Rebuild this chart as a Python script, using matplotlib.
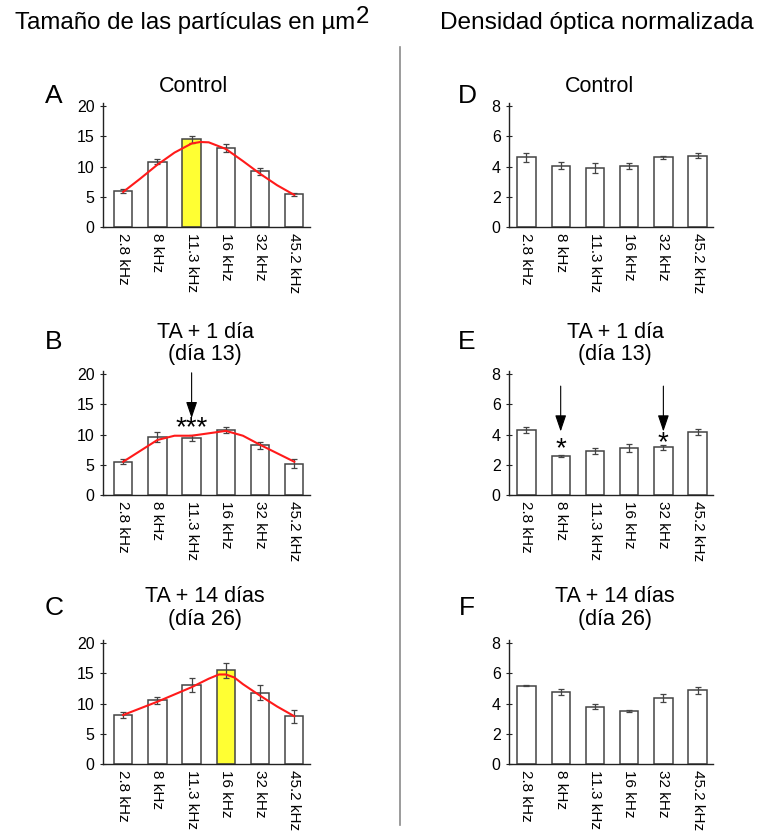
import numpy as np
import matplotlib
matplotlib.use('Agg')
import matplotlib.pyplot as plt

plt.rcParams['font.family'] = ['Liberation Sans', 'DejaVu Sans']

W, H = 759, 831

# data
freqs = ['2.8 kHz', '8 kHz', '11.3 kHz', '16 kHz', '32 kHz', '45.2 kHz']

size_ctrl = [5.9, 10.8, 14.5, 13.1, 9.2, 5.4]
size_ctrl_err = [0.3, 0.4, 0.6, 0.7, 0.6, 0.3]
size_d13 = [5.5, 9.6, 9.4, 10.8, 8.2, 5.2]
size_d13_err = [0.4, 0.8, 0.5, 0.5, 0.6, 0.7]
size_d26 = [8.1, 10.5, 13.1, 15.5, 11.8, 7.9]
size_d26_err = [0.5, 0.6, 1.2, 1.2, 1.2, 1.1]

# red fitted curves (position, value)
fit_ctrl_x = [0, 0.5, 1, 1.5, 2, 2.25, 2.5, 3, 3.5, 4, 4.5, 5]
fit_ctrl_y = [5.8, 8.0, 10.3, 12.3, 13.8, 14.05, 14.0, 12.9, 10.9, 8.8, 6.9, 5.3]
fit_d13_x = [0, 0.5, 1, 1.5, 2, 2.5, 3, 3.5, 4, 4.5, 5]
fit_d13_y = [5.5, 7.3, 9.1, 9.8, 9.8, 10.2, 10.6, 9.8, 8.3, 6.9, 5.5]
fit_d26_x = [0, 1, 2, 2.5, 2.8, 3, 3.25, 3.5, 4, 4.5, 5]
fit_d26_y = [8.1, 10.3, 12.7, 14.1, 14.8, 14.8, 14.3, 13.2, 11.3, 9.5, 7.9]

od_ctrl = [4.6, 4.06, 3.9, 4.03, 4.6, 4.72]
od_ctrl_err = [0.28, 0.25, 0.3, 0.18, 0.1, 0.18]
od_d13 = [4.32, 2.6, 2.94, 3.1, 3.15, 4.15]
od_d13_err = [0.2, 0.06, 0.2, 0.25, 0.15, 0.2]
od_d26 = [5.18, 4.75, 3.8, 3.5, 4.37, 4.87]
od_d26_err = [0.04, 0.2, 0.15, 0.07, 0.25, 0.25]

highlight = {'A': 2, 'C': 3}

fig = plt.figure(figsize=(W / 100, H / 100), dpi=100)


def fx(x):
    return x / W


def fy(y):
    return 1 - y / H


def make_axes(left, right, top, bottom):
    return fig.add_axes([fx(left), fy(bottom), (right - left) / W, (bottom - top) / H])


rows = [(106, 227), (374, 495), (643, 764)]


def draw_panel(ax, vals, errs, ymax, yticks, xlim, hl=None):
    x = np.arange(len(vals))
    colors = ['white'] * len(vals)
    if hl is not None:
        colors[hl] = '#ffff33'
    ax.bar(x, vals, width=0.535, color=colors, edgecolor='#444444', linewidth=1.1, zorder=2)
    ax.errorbar(x, vals, yerr=errs, fmt='none', ecolor='#444444', elinewidth=0.9,
                capsize=2.2, capthick=0.9, zorder=3)
    ax.set_xlim(*xlim)
    ax.set_ylim(0, ymax)
    ax.set_yticks(yticks)
    ax.set_xticks(x)
    ax.set_xticklabels(freqs, rotation=270, va='top', ha='center', fontsize=11)
    ax.tick_params(axis='x', length=0, pad=4)
    ax.tick_params(axis='y', direction='inout', length=4, width=0.8, labelsize=11.5, pad=4, color='#222222')
    for s in ['top', 'right']:
        ax.spines[s].set_visible(False)
    for s in ['left', 'bottom']:
        ax.spines[s].set_color('#222222')
        ax.spines[s].set_linewidth(1.0)
    ax.patch.set_alpha(0)


left_sets = [('A', size_ctrl, size_ctrl_err, fit_ctrl_x, fit_ctrl_y),
             ('B', size_d13, size_d13_err, fit_d13_x, fit_d13_y),
             ('C', size_d26, size_d26_err, fit_d26_x, fit_d26_y)]
right_sets = [('D', od_ctrl, od_ctrl_err),
              ('E', od_d13, od_d13_err),
              ('F', od_d26, od_d26_err)]
titles = [['Control'], ['TA + 1 día', '(día 13)'], ['TA + 14 días', '(día 26)']]

axes_left = []
for i, (lab, v, e, cx, cy) in enumerate(left_sets):
    t, b = rows[i]
    ax = make_axes(103, 310, t - 3, b)
    draw_panel(ax, v, e, 20.5, [0, 5, 10, 15, 20], (-0.59, 5.46), highlight.get(lab))
    ax.plot(cx, cy, color='#ff1a1a', lw=1.5, zorder=4)
    axes_left.append(ax)

axes_right = []
for i, (lab, v, e) in enumerate(right_sets):
    t, b = rows[i]
    ax = make_axes(509, 713, t - 3, b)
    draw_panel(ax, v, e, 8.2, [0, 2, 4, 6, 8], (-0.51, 5.45))
    axes_right.append(ax)

# arrows and significance marks
arrow = dict(arrowstyle='-|>,head_length=0.5,head_width=0.17', color='black', lw=0.8,
             mutation_scale=20, shrinkA=0, shrinkB=0)
axes_left[1].annotate('', xy=(2, 12.7), xytext=(2, 20.2), arrowprops=arrow, zorder=5)
axes_left[1].text(2, 11.0, '***', ha='center', va='center', fontsize=20)
axes_right[1].annotate('', xy=(1, 4.2), xytext=(1, 7.2), arrowprops=arrow, zorder=5)
axes_right[1].annotate('', xy=(4, 4.2), xytext=(4, 7.2), arrowprops=arrow, zorder=5)
axes_right[1].text(1, 3.0, '*', ha='center', va='center', fontsize=20)
axes_right[1].text(4, 3.45, '*', ha='center', va='center', fontsize=20)

# panel letters and titles
title_offsets = [[-19], [-42, -19], [-46, -23]]
title_x = [(194, 600), (205, 615), (205, 615)]
letter_off = [-10, -32, -35]
for i in range(3):
    t, b = rows[i]
    fig.text(fx(54), fy(t + letter_off[i]), left_sets[i][0], fontsize=19, ha='center', va='center')
    fig.text(fx(467), fy(t + letter_off[i]), right_sets[i][0], fontsize=19, ha='center', va='center')
    for line, off in zip(titles[i], title_offsets[i]):
        fig.text(fx(title_x[i][0]), fy(t + off), line, fontsize=15.5, ha='center', va='center')
        fig.text(fx(title_x[i][1]), fy(t + off), line, fontsize=15.5, ha='center', va='center')

# column headers
ht = fig.text(fx(15), fy(23), 'Tamaño de las partículas en µm', fontsize=17.3, ha='left', va='center')
fig.canvas.draw()
bb = ht.get_window_extent(renderer=fig.canvas.get_renderer())
fig.text(bb.x1 / W + 0.001, fy(17), '2', fontsize=17.3, ha='left', va='center')
fig.text(fx(440), fy(23), 'Densidad óptica normalizada', fontsize=17.6, ha='left', va='center')

# divider
fig.add_artist(plt.Line2D([fx(400), fx(400)], [fy(47), fy(825)], color='#8a8a8a', lw=1.2))

fig.savefig('out.png', dpi=100)
